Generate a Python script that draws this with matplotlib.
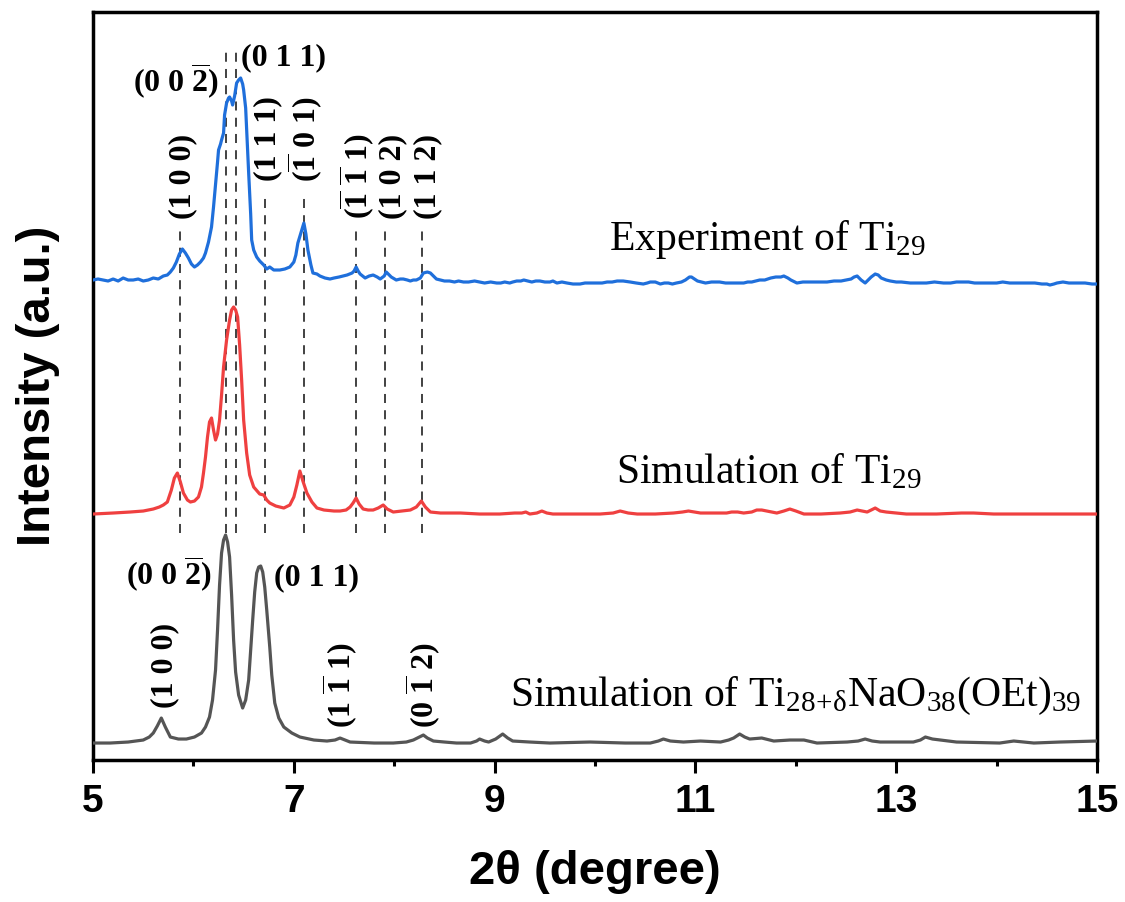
import matplotlib
matplotlib.use("Agg")
import matplotlib.pyplot as plt

# -----------------------------------------------------------------------------
# experiment of Ti29 (blue)
exp_x = [5.00, 5.05, 5.10, 5.15, 5.20, 5.25, 5.30, 5.35, 5.40, 5.45, 5.50, 5.55, 5.60, 5.65,
         5.70, 5.74, 5.77, 5.80, 5.83, 5.86, 5.89, 5.92, 5.95, 5.98, 6.01, 6.04, 6.07, 6.10,
         6.12, 6.15, 6.18, 6.20, 6.22, 6.24, 6.25, 6.27, 6.28, 6.30, 6.31, 6.33, 6.35, 6.36,
         6.38, 6.39, 6.41, 6.43, 6.45, 6.47, 6.49, 6.50, 6.52, 6.53, 6.55, 6.57, 6.58, 6.60,
         6.63, 6.66, 6.70, 6.73, 6.76, 6.80, 6.86, 6.91, 6.96, 7.00, 7.02, 7.04, 7.07, 7.09,
         7.10, 7.12, 7.14, 7.17, 7.19, 7.23, 7.26, 7.31, 7.36, 7.40, 7.45, 7.49, 7.53, 7.58,
         7.60, 7.62, 7.64, 7.66, 7.71, 7.75, 7.79, 7.83, 7.86, 7.90, 7.92, 7.95, 7.97, 8.02,
         8.06, 8.09, 8.13, 8.16, 8.19, 8.22, 8.26, 8.29, 8.33, 8.36, 8.39, 8.42, 8.46, 8.50,
         8.55, 8.60, 8.64, 8.69, 8.74, 8.80, 8.85, 8.90, 8.96, 9.02, 9.06, 9.10, 9.15, 9.18,
         9.22, 9.26, 9.29, 9.33, 9.37, 9.41, 9.45, 9.50, 9.55, 9.58, 9.62, 9.67, 9.72, 9.78,
         9.85, 9.90, 9.95, 10.02, 10.07, 10.12, 10.17, 10.22, 10.28, 10.35, 10.41, 10.48,
         10.52, 10.55, 10.60, 10.65, 10.69, 10.73, 10.77, 10.81, 10.86, 10.90, 10.94, 10.96,
         10.99, 11.02, 11.06, 11.10, 11.16, 11.24, 11.30, 11.35, 11.41, 11.48, 11.52, 11.56,
         11.60, 11.64, 11.69, 11.75, 11.80, 11.85, 11.88, 11.92, 11.95, 12.01, 12.07, 12.15,
         12.22, 12.31, 12.38, 12.45, 12.50, 12.55, 12.58, 12.61, 12.65, 12.69, 12.72, 12.75,
         12.79, 12.82, 12.85, 12.90, 12.94, 13.00, 13.05, 13.14, 13.22, 13.30, 13.38, 13.47,
         13.54, 13.60, 13.66, 13.72, 13.78, 13.85, 13.92, 14.00, 14.06, 14.13, 14.20, 14.30,
         14.38, 14.45, 14.50, 14.53, 14.57, 14.60, 14.66, 14.72, 14.80, 14.88, 14.95, 15.00]
exp_y = [48.0, 48.1, 48.0, 47.9, 48.1, 47.9, 48.2, 48.0, 48.0, 48.1, 47.9, 48.0, 48.2, 48.1,
         48.4, 48.5, 48.8, 49.2, 49.8, 50.6, 51.1, 50.7, 50.2, 49.6, 49.3, 49.5, 49.8, 50.2,
         50.7, 51.8, 53.3, 55.3, 57.5, 59.8, 61.0, 61.6, 62.0, 62.7, 64.5, 65.7, 66.2, 66.3,
         65.9, 65.5, 66.4, 67.7, 68.0, 68.2, 67.6, 67.0, 65.2, 63.0, 58.7, 54.6, 52.0, 51.0,
         50.3, 49.9, 49.5, 49.1, 49.3, 49.0, 49.0, 49.1, 49.3, 49.8, 50.5, 51.7, 52.7, 53.4,
         53.7, 52.6, 51.0, 49.5, 48.7, 48.6, 48.4, 48.2, 48.1, 48.2, 48.3, 48.4, 48.5, 48.7,
         48.9, 49.3, 48.9, 48.6, 48.2, 48.4, 48.5, 48.3, 48.1, 48.4, 48.8, 48.5, 48.3, 48.0,
         48.1, 48.1, 48.0, 47.9, 48.0, 48.0, 48.2, 48.7, 48.8, 48.7, 48.4, 48.1, 48.0, 47.9,
         47.9, 47.8, 47.9, 47.8, 47.8, 47.9, 47.8, 47.7, 47.8, 47.7, 47.7, 47.8, 47.7, 47.8,
         47.9, 47.9, 48.0, 47.9, 47.8, 47.9, 47.9, 47.8, 47.8, 47.9, 47.7, 47.8, 47.7, 47.6,
         47.6, 47.7, 47.7, 47.7, 47.7, 47.8, 47.8, 47.9, 47.9, 47.8, 47.7, 47.6,
         47.7, 47.8, 47.8, 47.6, 47.7, 47.7, 47.6, 47.7, 47.8, 48.0, 48.3, 48.3,
         48.1, 47.9, 47.8, 47.7, 47.8, 47.8, 47.7, 47.7, 47.7, 47.7, 47.8, 47.8,
         47.9, 48.0, 48.0, 48.2, 48.3, 48.3, 48.4, 48.2, 48.0, 47.7, 47.8, 47.8,
         47.8, 47.8, 47.9, 47.9, 48.0, 48.1, 48.3, 48.4, 48.0, 47.7, 48.0, 48.3,
         48.6, 48.5, 48.2, 48.0, 47.9, 47.8, 47.8, 47.7, 47.7, 47.7, 47.8, 47.7,
         47.7, 47.8, 47.8, 47.8, 47.7, 47.7, 47.7, 47.7, 47.8, 47.7, 47.7, 47.7,
         47.7, 47.6, 47.6, 47.5, 47.6, 47.7, 47.8, 47.7, 47.7, 47.7, 47.6, 47.6]

# simulation of Ti29 (red)
sim_x = [5.00, 5.20, 5.37, 5.50, 5.60, 5.66, 5.70, 5.74, 5.78, 5.81, 5.84, 5.87, 5.90, 5.94,
         5.97, 6.01, 6.05, 6.08, 6.10, 6.12, 6.14, 6.16, 6.18, 6.20, 6.22, 6.24, 6.26, 6.28,
         6.30, 6.33, 6.36, 6.38, 6.40, 6.42, 6.44, 6.46, 6.48, 6.50, 6.53, 6.56, 6.60, 6.66,
         6.70, 6.73, 6.76, 6.82, 6.90, 6.96, 7.00, 7.03, 7.06, 7.09, 7.13, 7.18, 7.23, 7.30,
         7.40, 7.46, 7.52, 7.56, 7.59, 7.62, 7.65, 7.69, 7.74, 7.79, 7.84, 7.89, 7.93, 7.99,
         8.08, 8.16, 8.22, 8.27, 8.31, 8.36, 8.46, 8.66, 8.85, 9.05, 9.20, 9.27, 9.31, 9.35,
         9.42, 9.47, 9.52, 9.58, 9.80, 10.05, 10.18, 10.25, 10.33, 10.42, 10.60, 10.78, 10.87,
         10.93, 10.99, 11.05, 11.25, 11.31, 11.36, 11.42, 11.48, 11.56, 11.61, 11.66, 11.71,
         11.76, 11.81, 11.88, 11.94, 12.00, 12.08, 12.25, 12.44, 12.54, 12.61, 12.66, 12.71,
         12.75, 12.79, 12.84, 12.90, 13.00, 13.10, 13.40, 13.65, 13.77, 13.97, 14.40, 15.00]
sim_y = [24.6, 24.7, 24.8, 24.9, 25.1, 25.3, 25.5, 25.8, 27.0, 28.2, 28.7, 27.8, 26.7, 26.0,
         25.8, 25.9, 26.3, 27.3, 28.7, 30.3, 32.3, 33.8, 34.2, 33.0, 32.0, 32.6, 34.0, 36.5,
         39.3, 42.0, 44.0, 45.0, 45.3, 45.0, 44.3, 41.5, 38.0, 34.0, 30.7, 28.5, 27.3, 26.6,
         26.5, 26.0, 25.7, 25.4, 25.2, 25.5, 26.3, 27.5, 28.9, 27.9, 26.7, 25.8, 25.2, 25.0,
         24.9, 24.9, 25.0, 25.3, 25.7, 26.2, 25.6, 25.1, 25.0, 25.0, 25.2, 25.5, 25.1, 24.8,
         24.9, 25.0, 25.3, 25.9, 25.3, 24.8, 24.7, 24.7, 24.6, 24.6, 24.7, 24.7, 24.8, 24.6,
         24.7, 24.9, 24.7, 24.6, 24.6, 24.6, 24.7, 24.9, 24.7, 24.6, 24.6, 24.7, 24.8,
         24.9, 24.8, 24.7, 24.7, 24.7, 24.8, 24.8, 24.7, 24.8, 25.0, 25.0, 24.9,
         24.8, 24.7, 24.9, 25.1, 24.9, 24.6, 24.6, 24.7, 24.8, 25.0, 24.9, 24.8,
         25.0, 25.2, 24.9, 24.8, 24.7, 24.6, 24.6, 24.7, 24.7, 24.6, 24.6, 24.6]

# simulation of Ti28+dNaO38(OEt)39 (grey)
na_x = [5.00, 5.17, 5.35, 5.50, 5.56, 5.60, 5.64, 5.68, 5.72, 5.77, 5.85, 5.93, 6.01, 6.08,
        6.12, 6.16, 6.19, 6.22, 6.24, 6.26, 6.28, 6.30, 6.32, 6.34, 6.36, 6.38, 6.40, 6.42,
        6.45, 6.49, 6.52, 6.55, 6.57, 6.59, 6.61, 6.63, 6.65, 6.67, 6.69, 6.71, 6.73, 6.76,
        6.78, 6.81, 6.85, 6.90, 6.98, 7.06, 7.20, 7.33, 7.41, 7.46, 7.51, 7.56, 7.80, 7.99,
        8.12, 8.19, 8.25, 8.29, 8.33, 8.39, 8.50, 8.62, 8.76, 8.82, 8.85, 8.90, 8.94, 9.01,
        9.08, 9.13, 9.18, 9.35, 9.55, 9.95, 10.30, 10.55, 10.63, 10.68, 10.75, 10.88, 11.05,
        11.25, 11.33, 11.38, 11.44, 11.49, 11.54, 11.66, 11.78, 11.94, 12.08, 12.21, 12.51,
        12.62, 12.69, 12.76, 12.84, 13.17, 13.24, 13.29, 13.36, 13.44, 13.60, 14.03, 14.17,
        14.37, 14.63, 15.00]
na_y = [1.7, 1.7, 1.8, 2.0, 2.3, 2.7, 3.4, 4.2, 3.3, 2.3, 2.1, 2.1, 2.3, 2.7,
        3.3, 4.3, 6.0, 9.0, 13.0, 17.5, 20.7, 22.0, 22.5, 21.8, 20.3, 16.5, 12.0, 8.8,
        6.5, 5.2, 6.0, 8.0, 11.0, 14.0, 16.8, 18.7, 19.3, 19.4, 18.8, 17.3, 15.0, 11.3,
        8.5, 5.7, 4.2, 3.3, 2.7, 2.3, 2.0, 1.9, 2.0, 2.2, 2.0, 1.8, 1.7, 1.7,
        1.8, 2.0, 2.3, 2.5, 2.2, 1.9, 1.8, 1.7, 1.7, 1.9, 2.1, 1.9, 1.8, 2.1,
        2.6, 2.2, 1.9, 1.8, 1.7, 1.8, 1.7, 1.7, 1.9, 2.1, 1.9, 1.8, 1.9,
        1.8, 2.0, 2.2, 2.6, 2.3, 2.1, 2.2, 1.9, 2.0, 2.0, 1.7, 1.8,
        1.9, 2.1, 1.9, 1.8, 1.8, 2.0, 2.3, 2.1, 2.0, 1.8, 1.7, 1.9,
        1.7, 1.8, 1.9]

# reflection guide lines: position and top of line
ref_x = [5.87, 6.32, 6.42, 6.71, 7.10, 7.62, 7.91, 8.28]
ref_top = [53.2, 71.0, 71.0, 56.7, 56.7, 53.2, 53.2, 53.2]
ref_bottom = 22.7

# hkl labels: text, x, y, rotation
top_labels = [
    ("(1 0 0)", 5.89, 58.4, 90),
    ("(0 0 $\\mathbf{\\overline{2}}$)", 5.83, 67.9, 0),
    ("(0 1 1)", 6.90, 70.2, 0),
    ("(1 1 1)", 6.74, 62.1, 90),
    ("($\\mathbf{\\overline{1}}$ 0 1)", 7.11, 62.1, 90),
    ("($\\mathbf{\\overline{1}}$ $\\mathbf{\\overline{1}}$ 1)", 7.63, 58.4, 90),
    ("(1 0 2)", 7.98, 58.4, 90),
    ("(1 1 2)", 8.33, 58.4, 90),
]
bottom_labels = [
    ("(1 0 0)", 5.71, 9.5, 90),
    ("(0 0 $\\mathbf{\\overline{2}}$)", 5.76, 18.6, 0),
    ("(0 1 1)", 7.23, 18.2, 0),
    ("(1 $\\mathbf{\\overline{1}}$ 1)", 7.46, 7.5, 90),
    ("(0 $\\mathbf{\\overline{1}}$ 2)", 8.29, 7.5, 90),
]

curve_names = ["Experiment of Ti$_{29}$", "Simulation of Ti$_{29}$",
               "Simulation of Ti$_{28\\!+\\!\\mathrm{\\delta}}$NaO$_{38}$(OEt)$_{39}$"]
name_pos = [(11.72, 51.0), (11.73, 27.7), (12.0, 5.4)]
# -----------------------------------------------------------------------------

plt.rcParams["mathtext.fontset"] = "custom"
plt.rcParams["mathtext.rm"] = "Liberation Serif"
plt.rcParams["mathtext.it"] = "Liberation Serif:italic"
plt.rcParams["mathtext.bf"] = "Liberation Serif:bold"

fig = plt.figure(figsize=(11.25, 9.02), dpi=100)
ax = fig.add_axes([0.0827, 0.1574, 0.8925, 0.8293])

ax.vlines(ref_x, ref_bottom, ref_top, colors="#333333", linestyles=(0, (5, 4)), linewidth=1.3, zorder=1)

ax.plot(exp_x, exp_y, color="#1f6fdb", linewidth=2.3, solid_joinstyle="round", zorder=3)
ax.plot(sim_x, sim_y, color="#ef4040", linewidth=2.3, solid_joinstyle="round", zorder=3)
ax.plot(na_x, na_y, color="#555555", linewidth=2.3, solid_joinstyle="round", zorder=3)

for txt, x, y, rot in top_labels + bottom_labels:
    ax.text(x, y, txt, family="Liberation Serif", fontweight="bold", fontsize=23,
            rotation=rot, ha="center", va="center")

for name, (x, y) in zip(curve_names, name_pos):
    ax.text(x, y, name, family="Liberation Serif", fontsize=30, ha="center", va="baseline")

ax.set_xlim(5, 15)
ax.set_ylim(0, 74.8)
ax.set_xticks([5, 7, 9, 11, 13, 15])
ax.set_xticks([6, 8, 10, 12, 14], minor=True)
ax.set_yticks([])
ax.tick_params(axis="x", which="major", length=9, width=2.2, pad=8)
ax.tick_params(axis="x", which="minor", length=4.5, width=2.2)
for lbl in ax.get_xticklabels():
    lbl.set_fontfamily("Liberation Sans")
    lbl.set_fontweight("bold")
    lbl.set_fontsize(28)
for s in ax.spines.values():
    s.set_linewidth(2.5)

ax.set_xlabel("2θ (degree)", family="Liberation Sans", fontweight="bold", fontsize=34, labelpad=22)
ax.set_ylabel("Intensity (a.u.)", family="Liberation Sans", fontweight="bold", fontsize=34)
ax.yaxis.set_label_coords(-0.033, 0.5)

fig.savefig("out.png", dpi=100)
